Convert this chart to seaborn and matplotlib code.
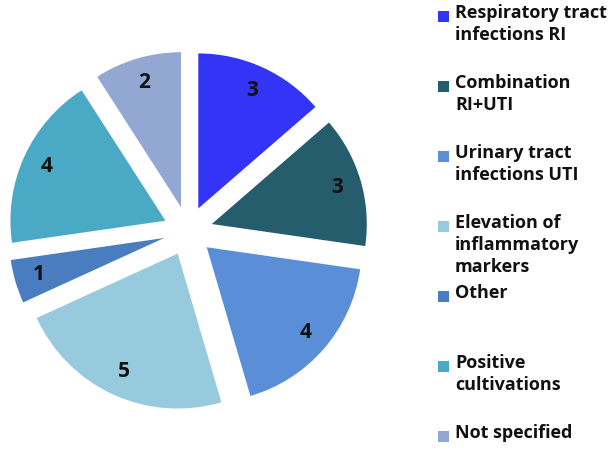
import matplotlib
matplotlib.use("Agg")
import matplotlib.pyplot as plt
import matplotlib.patches as mpatches
import seaborn as sns

# data
categories = [
    "Respiratory tract\ninfections RI",
    "Combination\nRI+UTI",
    "Urinary tract\ninfections UTI",
    "Elevation of\ninflammatory\nmarkers",
    "Other",
    "Positive\ncultivations",
    "Not specified",
]
counts = [3, 3, 4, 5, 1, 4, 2]
colors = ["#3434f6", "#255d6c", "#5a8fd8", "#97cadc", "#4a7dbf", "#4aaac5", "#93a7d3"]

sns.set_theme(style="white")
plt.rcParams["font.family"] = ["Open Sans", "DejaVu Sans"]

W, H = 609, 455
fig = plt.figure(figsize=(W / 100, H / 100), dpi=100)
fig.patch.set_facecolor("white")

# pie axes: centre at (188, 231) px from top-left, radius 155 px
r_px = 155
cx, cy = 188, 231
ax_w = 380
ax = fig.add_axes([0, 0, ax_w / W, 1])
palette = sns.color_palette(colors)

wedges, _, autotexts = ax.pie(
    counts,
    colors=palette,
    startangle=90,
    counterclock=False,
    explode=[0.16] * len(counts),
    autopct=lambda p: f"{round(p * sum(counts) / 100):d}",
    pctdistance=0.84,
    wedgeprops=dict(linewidth=0),
    textprops=dict(fontsize=15, fontweight="bold", color="#111111"),
)
ax.set_xlim(-cx / r_px, (ax_w - cx) / r_px)
ax.set_ylim(-(H - cy) / r_px, cy / r_px)
ax.set_aspect("auto")
ax.axis("off")

# legend drawn by hand to keep the uneven text layout
sq = 11
for i, (lab, col) in enumerate(zip(categories, colors)):
    y_top = 11 + 70 * i
    fig.patches.append(mpatches.Rectangle(
        (438 / W, 1 - (y_top + sq) / H), sq / W, sq / H,
        transform=fig.transFigure, facecolor=col, edgecolor="none"))
    fig.text(455 / W, 1 - (y_top - 7) / H, lab, ha="left", va="top",
             fontsize=13, fontweight="bold", color="#111111", linespacing=1.3)

fig.savefig("out.png", dpi=100, facecolor="white")
